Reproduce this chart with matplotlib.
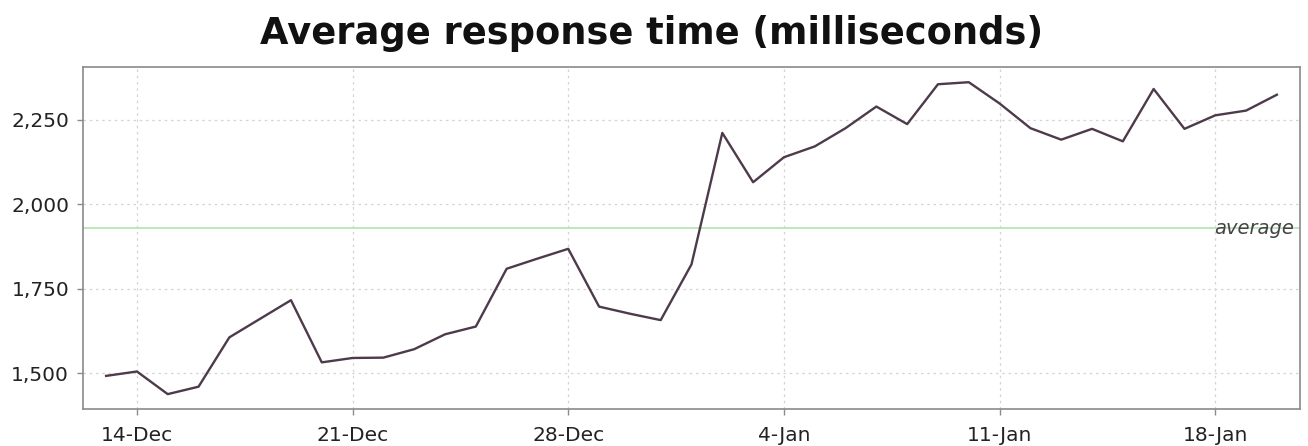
import matplotlib
matplotlib.use("Agg")
import matplotlib.pyplot as plt
import matplotlib.dates as mdates
import matplotlib.ticker as mticker
import numpy as np
import datetime as dt

start_date = "2009-12-13"
response_ms = [1492, 1505, 1438, 1460, 1606, 1661, 1716, 1532, 1545, 1546,
               1571, 1615, 1638, 1809, 1839, 1868, 1697, 1676, 1657, 1822,
               2211, 2065, 2139, 2171, 2225, 2289, 2237, 2355, 2361, 2298,
               2225, 2191, 2223, 2186, 2341, 2223, 2263, 2277, 2324]
average_ms = 1929
title = "Average response time (milliseconds)"
y_ticks = [1500, 1750, 2000, 2250]
x_tick_dates = ["2009-12-14", "2009-12-21", "2009-12-28", "2010-01-04", "2010-01-11", "2010-01-18"]

d0 = dt.datetime.strptime(start_date, "%Y-%m-%d")
dates = [d0 + dt.timedelta(days=i) for i in range(len(response_ms))]
xt = [dt.datetime.strptime(s, "%Y-%m-%d") for s in x_tick_dates]

fig = plt.figure(figsize=(13.08, 4.46), dpi=100)
ax = fig.add_axes([83/1308, 1 - 409/446, (1300-83)/1308, (409-67)/446])

ax.plot(dates, response_ms, color="#4d3a4b", lw=1.7, zorder=3)
ax.axhline(average_ms, color="#b5e6b5", lw=1.3, zorder=2)

ax.set_xlim(d0 - dt.timedelta(days=0.75), d0 + dt.timedelta(days=38.75))
ax.set_ylim(1394, 2406)
ax.set_yticks(y_ticks)
ax.yaxis.set_major_formatter(mticker.FuncFormatter(lambda v, p: f"{int(v):,}"))
ax.set_xticks(xt)
ax.xaxis.set_major_formatter(mdates.DateFormatter("%-d-%b"))

ax.grid(True, color="#d4d4d4", linestyle=(0, (2, 3)), lw=0.9)
ax.set_axisbelow(True)
for s in ax.spines.values():
    s.set_color("#8a8a8a")
    s.set_linewidth(1.2)
ax.tick_params(axis="both", colors="#8a8a8a", labelcolor="#222222", labelsize=14.5, length=4, width=1)
ax.tick_params(axis="x", pad=8)
ax.tick_params(axis="y", pad=6)

ax.text(0.995, average_ms, "average", transform=ax.get_yaxis_transform(), ha="right", va="center",
        fontsize=14, style="italic", color="#444444", zorder=4)

fig.text(0.4985, 1 - 34/446, title, ha="center", va="center", fontsize=26.5, fontweight="bold", color="#111111")

fig.savefig("out.png", dpi=100, facecolor="white")
